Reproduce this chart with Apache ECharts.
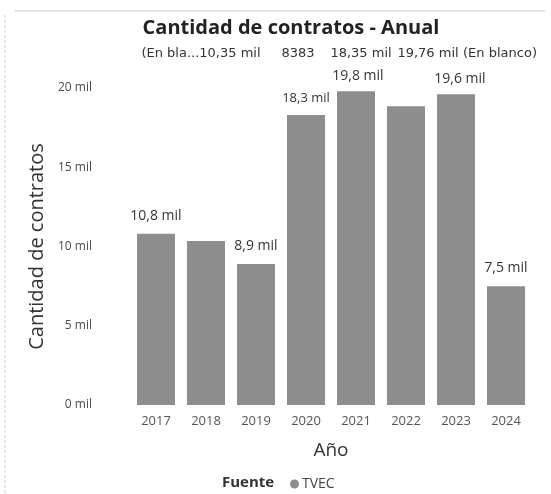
<!DOCTYPE html>
<html><head><meta charset="utf-8">
<script src="https://cdn.jsdelivr.net/npm/echarts@6/dist/echarts.min.js"></script>
<style>html,body{margin:0;padding:0;background:#fff}#c{width:551px;height:494px}</style>
</head><body><div id="c"></div>
<script>
const categories = ['2017','2018','2019','2020','2021','2022','2023','2024'];
const values = [10800, 10350, 8900, 18300, 19800, 18850, 19600, 7500];
const barLabels = ['10,8 mil', '', '8,9 mil', '18,3 mil', '19,8 mil', '', '19,6 mil', '7,5 mil'];
const yTicks = [0, 5000, 10000, 15000, 20000];
const strayLabels = ['(En bla...10,35 mil', '8383', '18,35 mil', '19,76 mil', '(En blanco)'];

const chart = echarts.init(document.getElementById('c'), null, {renderer: 'canvas'});
const FONT = '"Open Sans", "DejaVu Sans", sans-serif';
const labelOffsets = {4: [2, 3], 6: [4, 3]};
const data = values.map((v, i) => {
  const item = {value: v};
  if (!barLabels[i]) item.label = {show: false};
  else if (labelOffsets[i]) item.label = {offset: labelOffsets[i]};
  if (i === 3) item.label = {backgroundColor: '#fff', padding: [1, 2], fontSize: 13, distance: 9};
  return item;
});
const strayX = [201, 298, 361, 428, 500];
chart.setOption({
  animation: false,
  backgroundColor: '#fff',
  title: {
    text: 'Cantidad de contratos - Anual',
    left: 286, top: 13, textAlign: 'center',
    textStyle: {fontFamily: FONT, fontWeight: 'bold', fontSize: 20, color: '#222'}
  },
  grid: {left: 131, right: 20, top: 88, bottom: 89},
  xAxis: {
    type: 'category', data: categories,
    name: 'Año', nameLocation: 'middle', nameGap: 36,
    nameTextStyle: {fontFamily: FONT, fontSize: 19, color: '#333'},
    axisLine: {show: false}, axisTick: {show: false},
    axisLabel: {fontFamily: FONT, fontSize: 13, color: '#555', margin: 10}
  },
  yAxis: {
    type: 'value', min: 0, max: 20000, interval: 5000,
    name: 'Cantidad de contratos', nameLocation: 'middle', nameGap: 72,
    nameTextStyle: {fontFamily: FONT, fontSize: 20, color: '#333'},
    splitLine: {show: false}, axisLine: {show: false}, axisTick: {show: false},
    axisLabel: {fontFamily: FONT, fontSize: 12, color: '#4a4a4a', margin: 39,
      formatter: v => yTicks.includes(v) ? (v / 1000) + ' mil' : ''}
  },
  legend: {
    data: [{name: 'TVEC', icon: 'circle'}],
    left: 285, top: 472, itemWidth: 9, itemHeight: 9, itemGap: 3,
    textStyle: {fontFamily: FONT, fontSize: 14, color: '#444', padding: [0, 0, 0, -2]}
  },
  series: [{
    name: 'TVEC', type: 'bar', data: data, barWidth: 38,
    itemStyle: {color: '#8d8d8d'},
    label: {show: true, position: 'top', distance: 11,
      fontFamily: FONT, fontSize: 14, color: '#333',
      formatter: p => barLabels[p.dataIndex]}
  }],
  graphic: [
    {type: 'rect', shape: {x: 15, y: 10, width: 530, height: 2}, style: {fill: '#e2e2e2'}, silent: true},
    {type: 'line', shape: {x1: 5, y1: 15, x2: 5, y2: 494}, style: {stroke: '#cfcfcf', lineWidth: 1, lineDash: [3, 2]}, silent: true},
    {type: 'text', x: 222, y: 483, style: {text: 'Fuente', fontFamily: FONT, fontWeight: 'bold', fontSize: 15, fill: '#333', verticalAlign: 'middle'}}
  ].concat(strayLabels.map((t, i) => ({
    type: 'text', x: strayX[i], y: 54,
    style: {text: t, fontFamily: '"DejaVu Sans", sans-serif', fontSize: 13, fill: '#333', align: 'center', verticalAlign: 'middle'}
  })))
});
</script></body></html>
